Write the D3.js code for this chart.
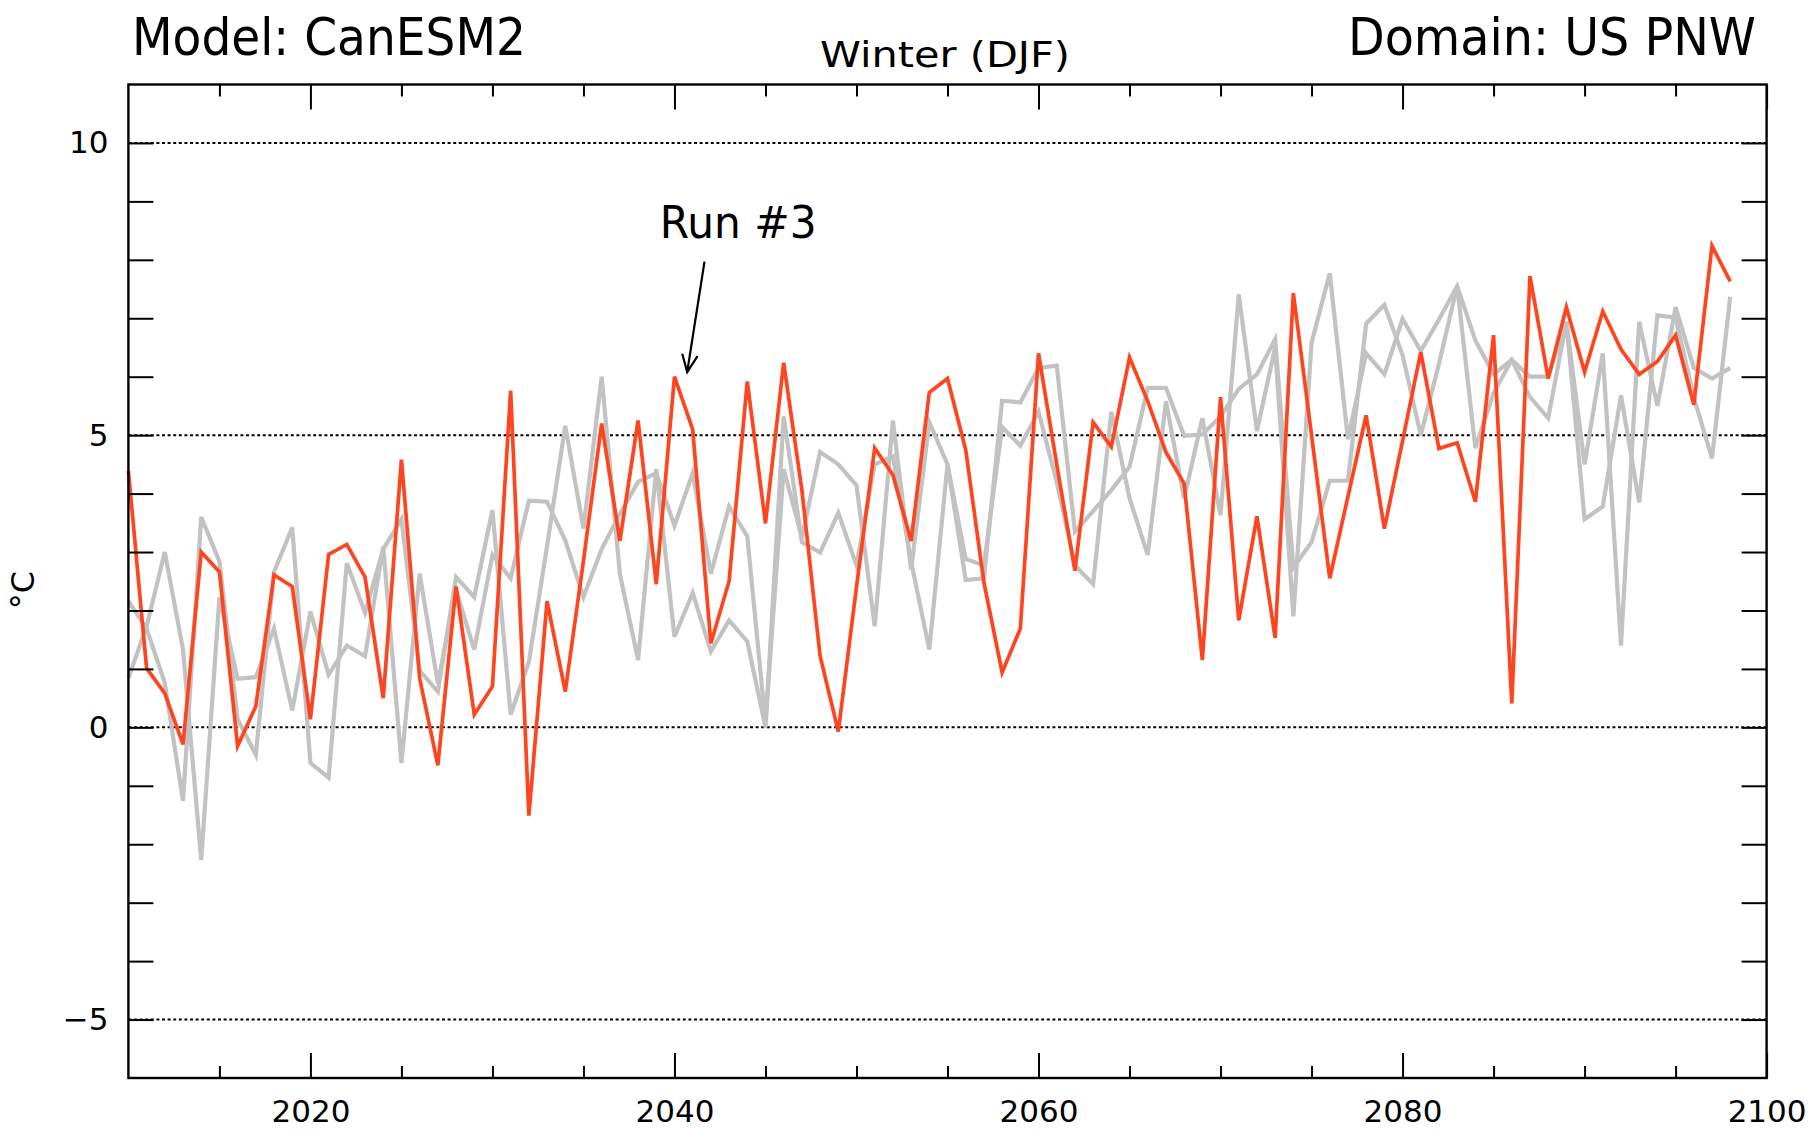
<!DOCTYPE html>
<html>
<head>
<meta charset="utf-8">
<script src="https://cdn.jsdelivr.net/npm/d3@7"></script>
<style>
  html, body { margin: 0; padding: 0; background: #fff; }
  svg { display: block; }
  text { font-family: "DejaVu Sans", Verdana, sans-serif; fill: #000; }
</style>
</head>
<body>
<svg id="chart" width="1814" height="1132"></svg>
<script>
// Winter (DJF) mean temperature, CanESM2 runs over the US Pacific Northwest, 2010-2098
const firstYear = 2010;

const run3 = [
  4.39, 1.01, 0.58, -0.29, 3.00, 2.66, -0.32, 0.36, 2.61, 2.41,
  0.14, 2.96, 3.13, 2.57, 0.50, 4.58, 0.84, -0.65, 2.41, 0.22,
  0.70, 5.76, -1.51, 2.16, 0.61, 2.85, 5.20, 3.19, 5.25, 2.45,
  6.00, 5.10, 1.44, 2.50, 5.92, 3.49, 6.24, 4.06, 1.22, -0.07,
  2.40, 4.78, 4.32, 3.19, 5.73, 5.97, 4.75, 2.48, 0.94, 1.69,
  6.40, 4.50, 2.68, 5.22, 4.80, 6.33, 5.58, 4.71, 4.17, 1.15,
  5.65, 1.83, 3.61, 1.53, 7.43, 5.00, 2.55, 3.95, 5.34, 3.40,
  4.90, 6.42, 4.77, 4.87, 3.86, 6.71, 0.41, 7.72, 5.97, 7.19,
  6.08, 7.12, 6.47, 6.04, 6.26, 6.71, 5.52, 8.24, 7.63
];

const runA = [
  2.16, 1.69, 0.76, -1.26, 3.60, 2.84, 0.14, -0.47, 2.66, 3.42,
  -0.61, -0.86, 2.81, 1.96, 3.05, 3.56, 0.97, 0.61, 2.57, 2.23,
  3.72, 0.22, 1.12, 3.10, 5.16, 3.40, 6.00, 2.63, 1.15, 4.42,
  1.55, 2.30, 1.30, 1.83, 1.47, 0.00, 5.32, 3.17, 2.99, 3.67,
  2.77, 4.50, 4.64, 2.84, 1.33, 4.50, 2.88, 2.77, 5.14, 4.82,
  5.40, 4.20, 2.77, 2.45, 5.40, 3.92, 2.95, 5.58, 3.92, 5.29,
  3.63, 7.41, 5.07, 6.50, 1.90, 6.58, 7.77, 4.93, 6.40, 6.04,
  6.99, 6.44, 6.98, 7.55, 6.62, 6.04, 6.29, 5.65, 5.29, 6.94,
  3.56, 3.78, 5.68, 3.85, 7.05, 7.01, 5.65, 4.60, 7.37
];

const runB = [
  0.84, 1.73, 3.00, 1.33, -2.27, 2.23, 0.83, 0.86, 1.69, 0.29,
  1.98, 0.90, 1.40, 1.22, 3.09, -0.61, 2.63, 0.75, 2.35, 1.33,
  2.95, 2.55, 3.88, 3.86, 3.20, 2.23, 3.05, 3.65, 4.20, 4.35,
  3.45, 4.35, 2.63, 3.78, 3.27, 0.07, 4.42, 3.25, 4.71, 4.50,
  4.14, 1.73, 5.25, 2.70, 5.22, 4.50, 2.52, 2.55, 5.59, 5.56,
  6.15, 6.19, 3.35, 3.70, 4.06, 4.46, 5.81, 5.81, 4.99, 5.01,
  5.32, 5.79, 6.04, 6.64, 2.73, 3.17, 4.22, 4.22, 6.91, 7.23,
  6.37, 5.00, 6.22, 7.55, 4.78, 5.72, 6.29, 6.00, 6.00, 6.94,
  4.50, 6.40, 1.40, 6.94, 5.50, 7.19, 6.15, 5.97, 6.15
];

const xMajorTicks = [2020, 2040, 2060, 2080, 2100];
const xMinorTicks = [2015, 2025, 2030, 2035, 2045, 2050, 2055, 2065, 2070, 2075, 2085, 2090, 2095];
const yMinorTicks = [-5, -4, -3, -2, -1, 0, 1, 2, 3, 4, 5, 6, 7, 8, 9, 10];
const yGridValues = [-5, 0, 5, 10];

const modelTitle = "Model: CanESM2";
const domainTitle = "Domain: US PNW";
const seasonTitle = "Winter (DJF)";
const yAxisLabel = "\u00B0C";
const highlightLabel = "Run #3";
const highlightYear = 2040;

// ---- layout ----
const svg = d3.select("#chart");
const W = 1814, H = 1132;
const plot = { left: 128.4, right: 1766.6, top: 84.5, bottom: 1078 };

svg.append("rect").attr("width", W).attr("height", H).attr("fill", "#fff");

const x = d3.scaleLinear().domain([2010, 2100]).range([plot.left, plot.right]);
const y = d3.scaleLinear().domain([-6, 11]).range([plot.bottom, plot.top]);

// dotted reference lines
svg.append("g")
  .selectAll("line")
  .data(yGridValues)
  .join("line")
  .attr("x1", plot.left).attr("x2", plot.right)
  .attr("y1", d => y(d)).attr("y2", d => y(d))
  .attr("stroke", "#000").attr("stroke-width", 2)
  .attr("stroke-dasharray", "3,2.6");

// series
const toPoints = arr => arr.map((v, i) => [firstYear + i, v]);
const line = d3.line().x(d => x(d[0])).y(d => y(d[1]));

const gLines = svg.append("g").attr("fill", "none").attr("stroke-linejoin", "miter");
[runA, runB].forEach(run => {
  gLines.append("path")
    .attr("d", line(toPoints(run)))
    .attr("stroke", "#c2c2c2")
    .attr("stroke-width", 4.2);
});
gLines.append("path")
  .attr("d", line(toPoints(run3)))
  .attr("stroke", "#ff4520")
  .attr("stroke-width", 3.7);

// axes: inward ticks on all four sides
function noDomain(g) { g.select(".domain").remove(); }

svg.append("g").attr("transform", `translate(0,${plot.bottom})`)
  .call(d3.axisBottom(x).tickValues(xMinorTicks).tickSizeInner(-12).tickSizeOuter(0).tickFormat(""))
  .call(noDomain);
const xb = svg.append("g").attr("transform", `translate(0,${plot.bottom})`)
  .call(d3.axisBottom(x).tickValues(xMajorTicks).tickSizeInner(-25).tickSizeOuter(0)
        .tickPadding(22).tickFormat(d3.format("d")))
  .call(noDomain);
xb.selectAll("text").attr("font-size", 31).attr("font-family", "DejaVu Sans");

svg.append("g").attr("transform", `translate(0,${plot.top})`)
  .call(d3.axisTop(x).tickValues(xMinorTicks).tickSizeInner(-12).tickSizeOuter(0).tickFormat(""))
  .call(noDomain);
svg.append("g").attr("transform", `translate(0,${plot.top})`)
  .call(d3.axisTop(x).tickValues(xMajorTicks).tickSizeInner(-25).tickSizeOuter(0).tickFormat(""))
  .call(noDomain);

svg.append("g").attr("transform", `translate(${plot.left},0)`)
  .call(d3.axisLeft(y).tickValues(yMinorTicks).tickSizeInner(-25).tickSizeOuter(0).tickFormat(""))
  .call(noDomain);
svg.append("g").attr("transform", `translate(${plot.right},0)`)
  .call(d3.axisRight(y).tickValues(yMinorTicks).tickSizeInner(-25).tickSizeOuter(0).tickFormat(""))
  .call(noDomain);

const yl = svg.append("g").attr("transform", `translate(${plot.left},0)`)
  .call(d3.axisLeft(y).tickValues(yGridValues).tickSize(0).tickPadding(20)
        .tickFormat(d => d < 0 ? "\u2212" + Math.abs(d) : String(d)))
  .call(noDomain);
yl.selectAll("text").attr("font-size", 31).attr("font-family", "DejaVu Sans");

svg.selectAll(".tick line").attr("stroke", "#000").attr("stroke-width", 2);

// frame
svg.append("rect")
  .attr("x", plot.left).attr("y", plot.top)
  .attr("width", plot.right - plot.left).attr("height", plot.bottom - plot.top)
  .attr("fill", "none").attr("stroke", "#000").attr("stroke-width", 2.4);

// titles
svg.append("text").attr("x", 132).attr("y", 55).attr("font-size", 52)
  .attr("textLength", 394).attr("lengthAdjust", "spacingAndGlyphs").text(modelTitle);
svg.append("text").attr("x", 1756).attr("y", 55).attr("font-size", 52).attr("text-anchor", "end")
  .attr("textLength", 408).attr("lengthAdjust", "spacingAndGlyphs").text(domainTitle);
svg.append("text").attr("x", 945).attr("y", 67).attr("font-size", 36).attr("text-anchor", "middle")
  .attr("textLength", 250).attr("lengthAdjust", "spacingAndGlyphs").text(seasonTitle);

// y axis label
svg.append("text")
  .attr("transform", `translate(34,${y(2.35)}) rotate(-90)`)
  .attr("text-anchor", "middle").attr("font-size", 32)
  .text(yAxisLabel);

// callout for the highlighted run
const peak = run3[highlightYear - firstYear];
const tip = [x(highlightYear + 0.7), y(peak + 0.08)];
const tail = [x(highlightYear + 1.65), y(peak + 1.97)];
svg.append("text")
  .attr("x", x(highlightYear + 3.5)).attr("y", y(peak + 2.37))
  .attr("text-anchor", "middle").attr("font-size", 44)
  .attr("textLength", 157).attr("lengthAdjust", "spacingAndGlyphs")
  .text(highlightLabel);

const ang = Math.atan2(tip[1] - tail[1], tip[0] - tail[0]);
const headLen = 19, spread = 0.42;
const g = svg.append("g").attr("stroke", "#000").attr("stroke-width", 2.2).attr("fill", "none");
g.append("line").attr("x1", tail[0]).attr("y1", tail[1]).attr("x2", tip[0]).attr("y2", tip[1]);
g.append("path").attr("d", d3.line()([
  [tip[0] - headLen * Math.cos(ang - spread), tip[1] - headLen * Math.sin(ang - spread)],
  tip,
  [tip[0] - headLen * Math.cos(ang + spread), tip[1] - headLen * Math.sin(ang + spread)]
]));
</script>
</body>
</html>
